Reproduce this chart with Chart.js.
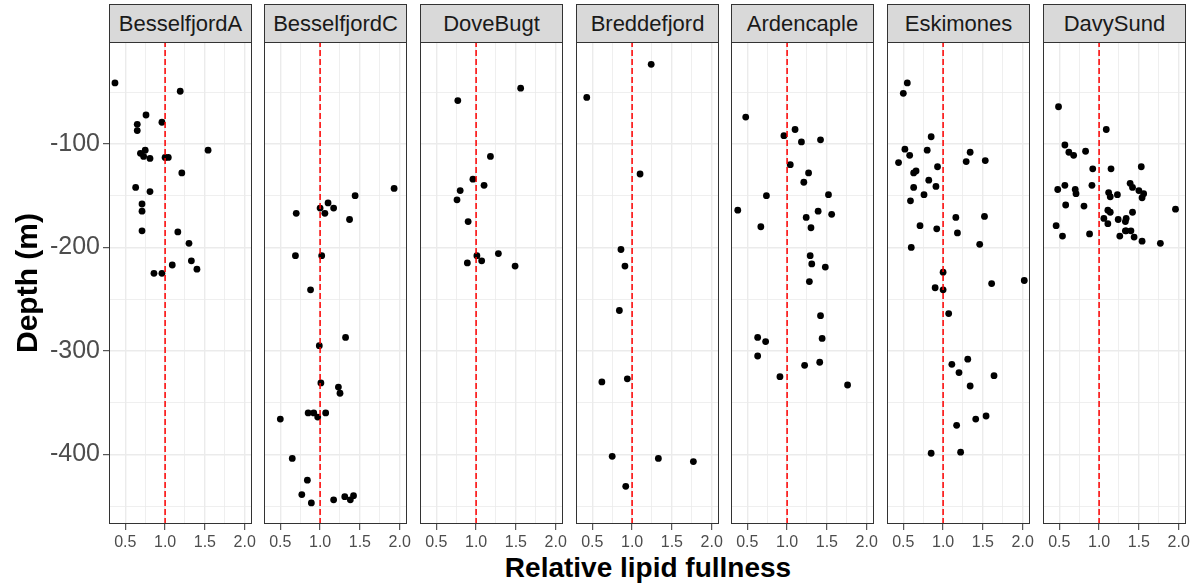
<!DOCTYPE html>
<html>
<head>
<meta charset="utf-8">
<script src="https://cdn.jsdelivr.net/npm/chart.js@4.4.0/dist/chart.umd.min.js"></script>
<style>
html,body{margin:0;padding:0;background:#fff;}
#wrap{position:relative;width:1201px;height:588px;overflow:hidden;background:#fff;font-family:"Liberation Sans",Arial,sans-serif;}
.strip{position:absolute;top:4px;height:39px;box-sizing:border-box;border:1px solid #333;background:#d9d9d9;color:#1a1a1a;font-size:22px;text-align:center;line-height:37px;white-space:nowrap;}
#xtitle{position:absolute;left:398px;width:500px;top:551px;height:34px;line-height:34px;text-align:center;font-weight:bold;font-size:28px;color:#000;white-space:nowrap;}
canvas{position:absolute;}
</style>
</head>
<body>
<div id="wrap">
  <div id="xtitle">Relative lipid fullness</div>
</div>
<script>
// ---- Data ----
const sites = ["BesselfjordA","BesselfjordC","DoveBugt","Breddefjord","Ardencaple","Eskimones","DavySund"];

const besselfjordA_fullness = [0.37,1.19,0.76,0.96,0.65,0.65,1.54,0.75,0.69,0.73,0.81,1.00,1.04,1.21,0.63,0.81,0.71,0.71,0.71,1.16,1.30,1.33,1.40,1.09,0.86,0.96];
const besselfjordA_depth    = [-41,-49,-72,-79,-81,-87,-106,-106,-109,-112,-114,-113,-113,-128,-142,-146,-158,-165,-184,-185,-196,-213,-221,-217,-225,-225];

const besselfjordC_fullness = [1.93,1.44,1.10,1.00,1.17,1.06,0.70,1.37,0.69,1.02,0.88,1.32,0.99,1.01,1.23,1.25,0.85,0.92,0.97,1.07,0.50,0.65,0.84,0.77,0.89,1.17,1.31,1.38,1.42];
const besselfjordC_depth    = [-143,-150,-157,-162,-162,-167,-167,-173,-208,-208,-241,-287,-295,-331,-335,-341,-360,-360,-364,-360,-366,-404,-425,-439,-447,-444,-441,-444,-440];

const doveBugt_fullness = [1.56,0.77,1.18,0.96,1.10,0.80,0.76,0.90,1.28,1.01,1.07,0.89,1.49];
const doveBugt_depth    = [-46,-58,-112,-134,-140,-145,-154,-175,-206,-208,-213,-215,-218];

const breddefjord_fullness = [1.24,0.43,1.10,0.86,0.91,0.84,0.62,0.94,0.75,1.33,1.77,0.92];
const breddefjord_depth    = [-23,-55,-129,-202,-218,-261,-330,-327,-402,-404,-407,-431];

const ardencaple_fullness = [0.48,1.10,0.96,1.18,1.42,1.04,1.27,1.21,0.74,1.52,0.38,1.39,1.56,1.24,0.67,1.30,1.29,1.31,1.48,1.28,1.42,0.63,0.73,1.44,0.63,1.41,1.22,0.91,1.76];
const ardencaple_depth    = [-74,-86,-92,-98,-96,-120,-128,-137,-150,-149,-164,-165,-168,-171,-180,-181,-208,-216,-219,-233,-266,-287,-291,-288,-305,-311,-314,-325,-333];

const eskimones_fullness = [0.55,0.50,0.85,0.52,0.80,0.58,1.34,0.44,1.29,1.53,0.93,0.66,0.63,0.82,0.91,0.63,0.76,0.59,1.16,1.52,0.71,0.92,1.18,1.46,0.60,1.00,1.61,2.02,0.90,1.00,1.07,1.31,1.11,1.20,1.64,1.34,1.54,1.41,1.17,0.85,1.22];
const eskimones_depth    = [-41,-51,-93,-105,-106,-111,-108,-118,-117,-116,-122,-126,-128,-135,-141,-142,-149,-155,-171,-170,-179,-182,-186,-197,-200,-224,-235,-232,-239,-241,-264,-308,-313,-321,-324,-334,-363,-366,-372,-399,-398];

const davySund_fullness = [0.49,1.09,0.57,0.62,0.68,0.83,0.92,1.15,1.53,0.57,0.48,0.91,0.70,0.71,1.39,1.42,1.50,1.56,1.54,1.12,1.23,1.14,0.58,0.81,1.96,1.11,1.14,1.42,1.06,1.24,1.34,1.33,1.11,0.46,1.34,1.40,1.33,0.88,0.54,1.26,1.44,1.54,1.77];
const davySund_depth    = [-64,-86,-101,-108,-111,-107,-124,-124,-122,-140,-144,-140,-144,-148,-138,-142,-145,-148,-152,-147,-149,-151,-159,-160,-163,-164,-166,-166,-172,-173,-172,-175,-177,-179,-184,-184,-184,-187,-189,-189,-190,-194,-196];

const xMajorTicks = [0.5, 1.0, 1.5, 2.0];
const xMinorTicks = [0.75, 1.25, 1.75];
const yMajorTicks = [-100, -200, -300, -400];
const yMinorTicks = [-50, -150, -250, -350, -450];
const xLimits = [0.295, 2.092];
const yLimits = [-467.4, -1.4];
const referenceFullness = 1.0;

const seriesX = [besselfjordA_fullness, besselfjordC_fullness, doveBugt_fullness, breddefjord_fullness, ardencaple_fullness, eskimones_fullness, davySund_fullness];
const seriesY = [besselfjordA_depth, besselfjordC_depth, doveBugt_depth, breddefjord_depth, ardencaple_depth, eskimones_depth, davySund_depth];

// ---- Layout ----
const FAMILY = '"Liberation Sans", Arial, sans-serif';
Chart.defaults.font.family = FAMILY;
const PANEL_LEFT = [109, 264, 420, 576, 731, 887, 1043];
const PANEL_W = 143;
const PANEL_TOP = 42;
const CANVAS_H = 512;
const XAXIS_H = 30;
const RIGHT_PAD = 12;

const borderPlugin = {
  id: 'panelBorder',
  afterDraw(chart) {
    const {ctx, chartArea: a} = chart;
    ctx.save();
    ctx.strokeStyle = '#333333';
    ctx.lineWidth = 1;
    ctx.strokeRect(a.left + 0.5, a.top + 0.5, a.right - a.left - 1, a.bottom - a.top - 1);
    ctx.restore();
  }
};

function zeroPad(s) { s.paddingTop = 0; s.paddingBottom = 0; s.paddingLeft = 0; s.paddingRight = 0; }

const wrap = document.getElementById('wrap');
const allX = xMajorTicks.concat(xMinorTicks).sort((a,b)=>a-b);
const allY = yMajorTicks.concat(yMinorTicks).sort((a,b)=>a-b);

sites.forEach((name, i) => {
  const isFirst = i === 0;
  const axisW = isFirst ? 109 : 0;
  const cLeft = isFirst ? 0 : PANEL_LEFT[i];
  const cW = axisW + PANEL_W + RIGHT_PAD;

  const strip = document.createElement('div');
  strip.className = 'strip';
  strip.style.left = PANEL_LEFT[i] + 'px';
  strip.style.width = PANEL_W + 'px';
  strip.textContent = name;
  wrap.appendChild(strip);

  const cv = document.createElement('canvas');
  cv.width = cW; cv.height = CANVAS_H;
  cv.style.left = cLeft + 'px';
  cv.style.top = PANEL_TOP + 'px';
  cv.style.width = cW + 'px';
  cv.style.height = CANVAS_H + 'px';
  wrap.appendChild(cv);

  const xs = seriesX[i], ys = seriesY[i];
  new Chart(cv, {
    type: 'scatter',
    data: {
      datasets: [
        {
          type: 'line',
          data: [{x: referenceFullness, y: yLimits[0]}, {x: referenceFullness, y: yLimits[1]}],
          borderColor: '#ff0000', borderWidth: 1.5, borderDash: [6, 3],
          pointRadius: 0, showLine: true, fill: false, order: 0
        },
        {
          type: 'scatter',
          data: xs.map((x, k) => ({x: x, y: ys[k]})),
          backgroundColor: '#000000', borderColor: '#000000', borderWidth: 0,
          pointRadius: 3.4, order: 1
        }
      ]
    },
    options: {
      responsive: false, animation: false, devicePixelRatio: 1,
      layout: {padding: {left: 0, right: RIGHT_PAD, top: 0, bottom: 0}, autoPadding: false},
      plugins: {legend: {display: false}, tooltip: {enabled: false}},
      scales: {
        x: {
          type: 'linear', min: xLimits[0], max: xLimits[1],
          afterBuildTicks: s => { s.ticks = allX.map(v => ({value: v})); },
          afterFit: s => { s.height = XAXIS_H; zeroPad(s); },
          ticks: {
            autoSkip: false, maxRotation: 0, padding: 3,
            color: '#4d4d4d', font: {size: 16},
            callback: v => xMajorTicks.includes(v) ? v.toFixed(1) : ''
          },
          grid: {
            color: '#ebebeb',
            lineWidth: c => (c.tick && xMajorTicks.includes(c.tick.value)) ? 1.4 : 0.8,
            tickColor: c => (c.tick && xMajorTicks.includes(c.tick.value)) ? '#333333' : 'rgba(0,0,0,0)',
            tickLength: 6, tickWidth: 1
          },
          border: {display: false}
        },
        y: {
          type: 'linear', min: yLimits[0], max: yLimits[1],
          afterBuildTicks: s => { s.ticks = allY.map(v => ({value: v})); },
          afterFit: s => { s.width = axisW; zeroPad(s); },
          ticks: {
            display: isFirst, autoSkip: false, padding: 3,
            color: '#4d4d4d', font: {size: 25},
            callback: v => yMajorTicks.includes(v) ? String(v) : ''
          },
          grid: {
            color: '#ebebeb',
            lineWidth: c => (c.tick && yMajorTicks.includes(c.tick.value)) ? 1.4 : 0.8,
            drawTicks: isFirst,
            tickColor: c => (c.tick && yMajorTicks.includes(c.tick.value)) ? '#333333' : 'rgba(0,0,0,0)',
            tickLength: 6, tickWidth: 1
          },
          border: {display: false},
          title: {
            display: isFirst, text: 'Depth (m)', color: '#000000',
            font: {size: 30, weight: 'bold'}, padding: {top: 11, bottom: 0}
          }
        }
      }
    },
    plugins: [borderPlugin]
  });
});
</script>
</body>
</html>
